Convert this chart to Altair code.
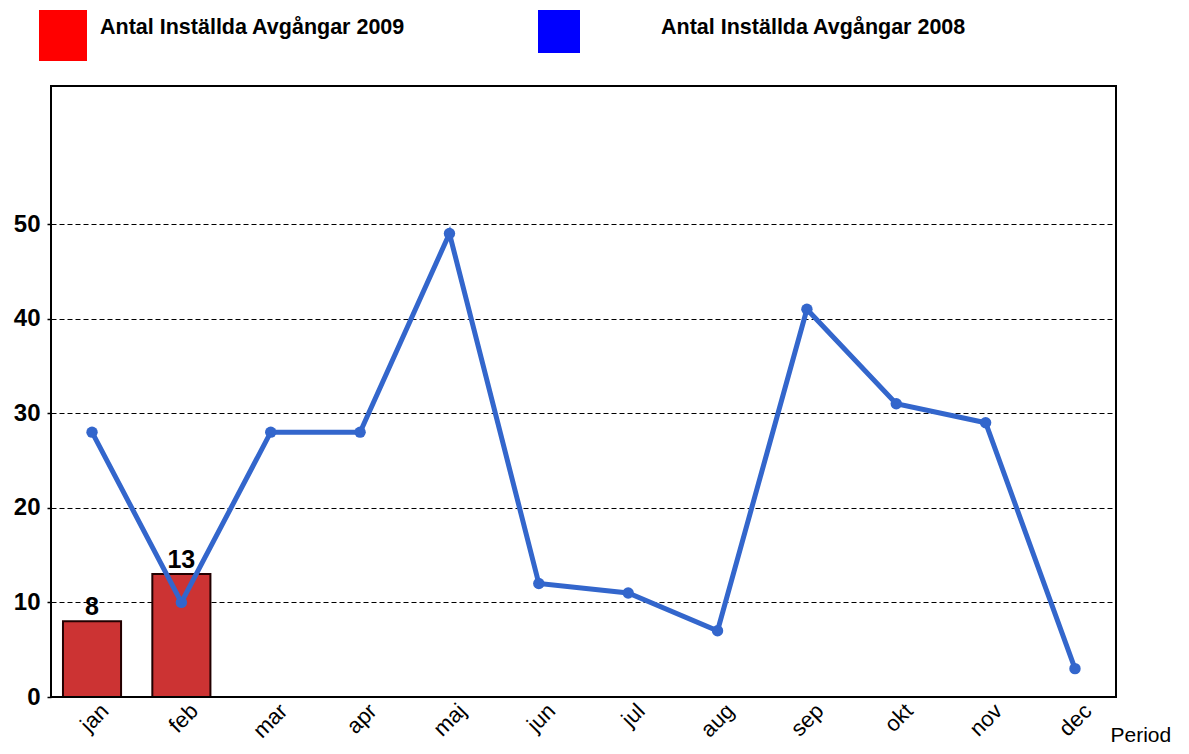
import altair as alt
import pandas as pd

months = ["jan", "feb", "mar", "apr", "maj", "jun", "jul", "aug", "sep", "okt", "nov", "dec"]
values_2008 = [28, 10, 28, 28, 49, 12, 11, 7, 41, 31, 29, 3]
bar_months = ["jan", "feb"]
values_2009 = [8, 13]
legend_labels = ["Antal Inställda Avgångar 2009", "Antal Inställda Avgångar 2008"]
y_ticks = [0, 10, 20, 30, 40, 50]

FONT = "Liberation Sans"
W, H = 1065, 611

line_df = pd.DataFrame({"Period": months, "v": values_2008})
bar_df = pd.DataFrame({"Period": bar_months, "v": values_2009})

xscale = alt.Scale(domain=months, paddingInner=0.35, paddingOuter=0.134)
yscale = alt.Scale(domain=[0, 64.6], nice=False)

x_enc = alt.X("Period:N", scale=xscale, sort=months,
              axis=alt.Axis(title="Period", labelAngle=-45, labelFontSize=22,
                            labelFont=FONT, labelColor="black", labelAlign="right",
                            labelBaseline="middle", labelPadding=10, labelOffset=13,
                            ticks=False, domain=False,
                            titleFont=FONT, titleFontSize=21, titleFontWeight="normal",
                            titleColor="black", titleAlign="left", titleBaseline="alphabetic",
                            titleX=1059, titleY=44, titleAngle=0))
y_enc = alt.Y("v:Q", scale=yscale,
              axis=alt.Axis(title=None, values=y_ticks, labelFontSize=24, labelFont=FONT,
                            labelFontWeight="bold", labelColor="black", labelPadding=7,
                            tickSize=4, tickColor="black", tickWidth=1.5, domain=False,
                            grid=True, gridColor="black", gridDash=[5, 3], gridWidth=1.2))

bars = alt.Chart(bar_df).mark_bar(color="#CC3333", stroke="#220000", strokeWidth=2).encode(
    x=x_enc, y=y_enc)

bar_text = alt.Chart(bar_df).mark_text(baseline="bottom", dy=-1, fontSize=25,
                                       fontWeight="bold", font=FONT, color="black").encode(
    x=alt.X("Period:N", scale=xscale, sort=months),
    y=alt.Y("v:Q", scale=yscale), text="v:Q")

line = alt.Chart(line_df).mark_line(color="#3366CC", strokeWidth=5).encode(
    x=alt.X("Period:N", scale=xscale, sort=months),
    y=alt.Y("v:Q", scale=yscale))

pts = alt.Chart(line_df).mark_circle(color="#3366CC", size=130, opacity=1).encode(
    x=alt.X("Period:N", scale=xscale, sort=months),
    y=alt.Y("v:Q", scale=yscale))

leg_df = pd.DataFrame({"label": legend_labels})

frame = alt.Chart(leg_df.iloc[[0]]).mark_rect(fill=None, stroke="black", strokeWidth=2).encode(
    x=alt.value(0), x2=alt.value(W), y=alt.value(0), y2=alt.value(H))

leg_red = alt.Chart(leg_df.iloc[[0]]).mark_rect(color="#FF0000").encode(
    x=alt.value(-12), x2=alt.value(36), y=alt.value(-76), y2=alt.value(-25))
leg_blue = alt.Chart(leg_df.iloc[[1]]).mark_rect(color="#0000FF").encode(
    x=alt.value(487), x2=alt.value(529), y=alt.value(-76), y2=alt.value(-33))
leg_t1 = alt.Chart(leg_df.iloc[[0]]).mark_text(align="left", baseline="middle", fontSize=21.5,
                                                fontWeight="bold", font=FONT, color="black").encode(
    x=alt.value(49), y=alt.value(-58), text="label:N")
leg_t2 = alt.Chart(leg_df.iloc[[1]]).mark_text(align="left", baseline="middle", fontSize=21.5,
                                                fontWeight="bold", font=FONT, color="black").encode(
    x=alt.value(610), y=alt.value(-58), text="label:N")

chart = alt.layer(bars, bar_text, line, pts, frame, leg_red, leg_blue, leg_t1, leg_t2).properties(
    width=W, height=H,
    autosize=alt.AutoSizeParams(type="none"),
    padding={"left": 43, "top": 78, "right": 62, "bottom": 47},
).configure_view(stroke="black", strokeWidth=2).configure(background="white")

chart.save("out.html", embed_options={"renderer": "svg", "actions": False})
